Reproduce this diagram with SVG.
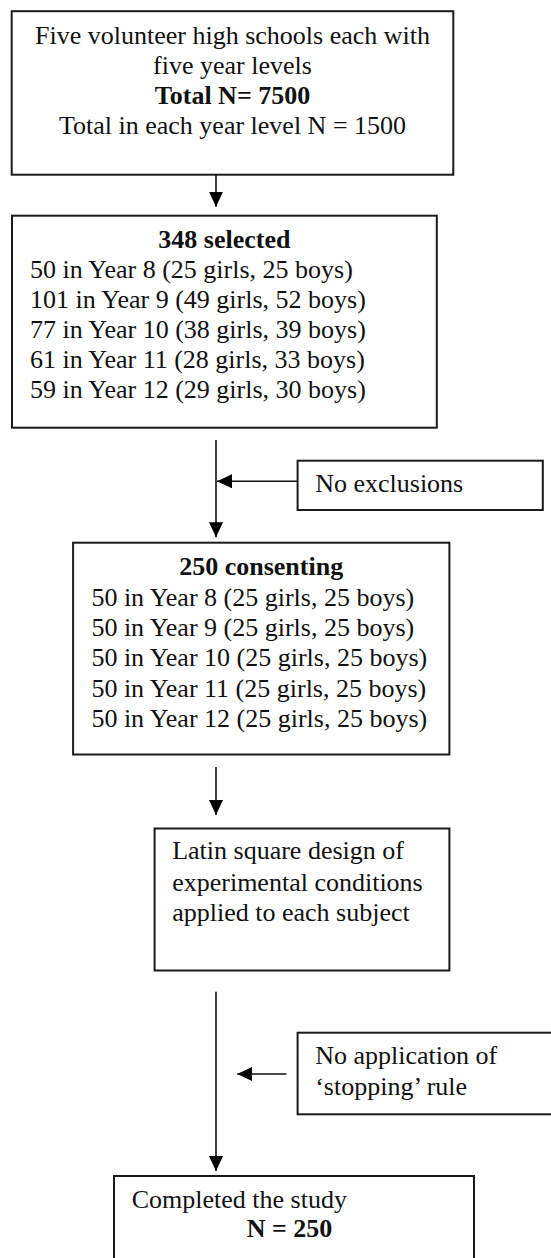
<svg xmlns="http://www.w3.org/2000/svg" width="551" height="1258" viewBox="0 0 551 1258">
<style>
  .box{fill:#fff;stroke:#1a1a1a;stroke-width:2}
  .t{font-family:"Liberation Serif","Times New Roman",serif;font-size:26px;fill:#111}
  .b{font-weight:bold}
  .c{text-anchor:middle}
  .edge{stroke:#111;stroke-width:1.6;fill:none;marker-end:url(#ah)}
</style>
<defs>
  <marker id="ah" viewBox="0 0 15 14" refX="15" refY="7" markerWidth="15" markerHeight="14" orient="auto" markerUnits="userSpaceOnUse">
    <path d="M0,0 L15,7 L0,14 z" fill="#000"/>
  </marker>
</defs>
<rect width="551" height="1258" fill="#fff"/>
<g id="connectors">
  <line class="edge" x1="216" y1="175" x2="216" y2="206.7"/>
  <line class="edge" x1="216" y1="440" x2="216" y2="537.3"/>
  <line class="edge" x1="297.6" y1="481.3" x2="217" y2="481.3"/>
  <line class="edge" x1="216" y1="767" x2="216" y2="815"/>
  <line class="edge" x1="216" y1="991.7" x2="216" y2="1171"/>
  <line class="edge" x1="286.4" y1="1074" x2="237.2" y2="1074"/>
</g>
<g id="node-schools">
  <rect class="box" x="11.7" y="11.2" width="441.6" height="163.5"/>
  <text class="t c" x="232.5" y="44">Five volunteer high schools each with</text>
  <text class="t c" x="232.5" y="74">five year levels</text>
  <text class="t c b" x="232.5" y="104.3">Total N= 7500</text>
  <text class="t c" x="232.5" y="134.3">Total in each year level N = 1500</text>
</g>
<g id="node-selected">
  <rect class="box" x="12" y="215.7" width="424.8" height="212"/>
  <text class="t c b" x="224.4" y="248.3">348 selected</text>
  <text class="t" x="30" y="278.3">50 in Year 8 (25 girls, 25 boys)</text>
  <text class="t" x="30" y="308.3">101 in Year 9 (49 girls, 52 boys)</text>
  <text class="t" x="30" y="337.8">77 in Year 10 (38 girls, 39 boys)</text>
  <text class="t" x="30" y="367.7">61 in Year 11 (28 girls, 33 boys)</text>
  <text class="t" x="30" y="397.7">59 in Year 12 (29 girls, 30 boys)</text>
</g>
<g id="node-exclusions">
  <rect class="box" x="297.6" y="460.7" width="245.2" height="49.3"/>
  <text class="t" x="315.2" y="491.7">No exclusions</text>
</g>
<g id="node-consenting">
  <rect class="box" x="73.1" y="542.7" width="376.3" height="211.8"/>
  <text class="t c b" x="261.2" y="575">250 consenting</text>
  <text class="t" x="91.4" y="605.5">50 in Year 8 (25 girls, 25 boys)</text>
  <text class="t" x="91.4" y="636">50 in Year 9 (25 girls, 25 boys)</text>
  <text class="t" x="91.4" y="666">50 in Year 10 (25 girls, 25 boys)</text>
  <text class="t" x="91.4" y="696.5">50 in Year 11 (25 girls, 25 boys)</text>
  <text class="t" x="91.4" y="727">50 in Year 12 (25 girls, 25 boys)</text>
</g>
<g id="node-latin">
  <rect class="box" x="154.6" y="828.5" width="294.8" height="142"/>
  <text class="t" x="172.2" y="859.3">Latin square design of</text>
  <text class="t" x="172.2" y="890.7">experimental conditions</text>
  <text class="t" x="172.2" y="921">applied to each subject</text>
</g>
<g id="node-stopping">
  <rect class="box" x="297.6" y="1032.7" width="265" height="81.6"/>
  <text class="t" x="315.2" y="1064.3">No application of</text>
  <text class="t" x="315.2" y="1095">‘stopping’ rule</text>
</g>
<g id="node-completed">
  <rect class="box" x="114" y="1176" width="360" height="100"/>
  <text class="t" x="131.7" y="1207.7">Completed the study</text>
  <text class="t b" x="246.7" y="1237.3">N = 250</text>
</g>
</svg>
